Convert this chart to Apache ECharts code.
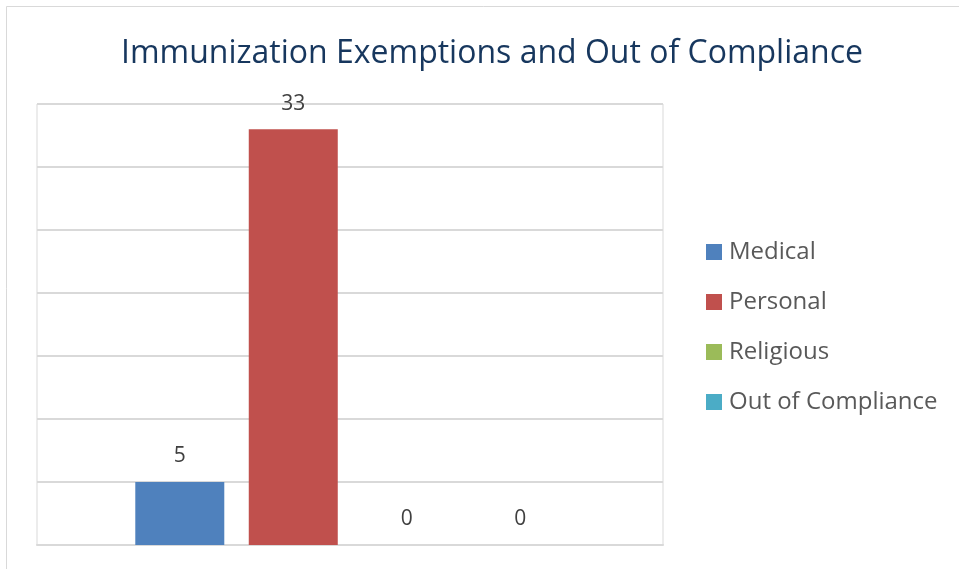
<!DOCTYPE html>
<html>
<head>
<meta charset="utf-8">
<script src="https://cdn.jsdelivr.net/npm/echarts@6/dist/echarts.min.js"></script>
<style>
html,body{margin:0;padding:0;background:#fff;}
#main{width:959px;height:569px;}
</style>
</head>
<body>
<div id="main"></div>
<script>
// 数据
var seriesNames = ['Medical', 'Personal', 'Religious', 'Out of Compliance'];
var seriesValues = [5, 33, 0, 0];
var seriesColors = ['#4f81bd', '#c0504d', '#9bbb59', '#4bacc6'];
var categories = [''];
var yTicks = { min: 0, max: 35, interval: 5 };

(function(){
	var chart = echarts.init(document.getElementById('main'));
	var series = [];
	for (var i = 0; i < seriesNames.length; i++) {
		series.push({
			name: seriesNames[i],
			type: 'bar',
			data: [seriesValues[i]],
			barWidth: 89,
			barGap: '27.5%',
			itemStyle: { color: seriesColors[i] },
			label: {
				show: true,
				position: 'top',
				distance: 15,
				color: '#404040',
				fontSize: 21,
				fontFamily: 'Open Sans'
			}
		});
	}
	var option = {
		animation: false,
		backgroundColor: '#fff',
		graphic: [{
			type: 'rect',
			shape: { x: 6.5, y: 6.5, width: 1000, height: 1000 },
			style: { fill: 'none', stroke: '#d9d9d9', lineWidth: 1 },
			z: -1
		}],
		title: {
			text: 'Immunization Exemptions and Out of Compliance',
			left: 487,
			textAlign: 'center',
			top: 33,
			textStyle: {
				color: '#17375e',
				fontSize: 32,
				fontWeight: 'normal',
				fontFamily: 'Open Sans'
			}
		},
		legend: {
			orient: 'vertical',
			left: 701,
			top: 235,
			itemWidth: 16,
			itemHeight: 16,
			itemGap: 26,
			icon: 'rect',
			data: seriesNames,
			textStyle: {
				color: '#595959',
				fontSize: 24,
				fontFamily: 'Open Sans',
				padding: [0, 0, 0, 2]
			}
		},
		grid: {
			left: 37,
			right: 296,
			top: 104,
			bottom: 24,
			show: true,
			borderColor: '#d9d9d9',
			borderWidth: 1
		},
		xAxis: {
			type: 'category',
			data: categories,
			axisLine: { lineStyle: { color: '#d9d9d9', width: 2 } },
			axisTick: { show: false },
			axisLabel: { show: false }
		},
		yAxis: {
			type: 'value',
			min: yTicks.min,
			max: yTicks.max,
			interval: yTicks.interval,
			axisLine: { show: false },
			axisTick: { show: false },
			axisLabel: { show: false },
			splitLine: { lineStyle: { color: '#d9d9d9', width: 2 } }
		},
		series: series
	};
	chart.setOption(option);
})();
</script>
</body>
</html>
